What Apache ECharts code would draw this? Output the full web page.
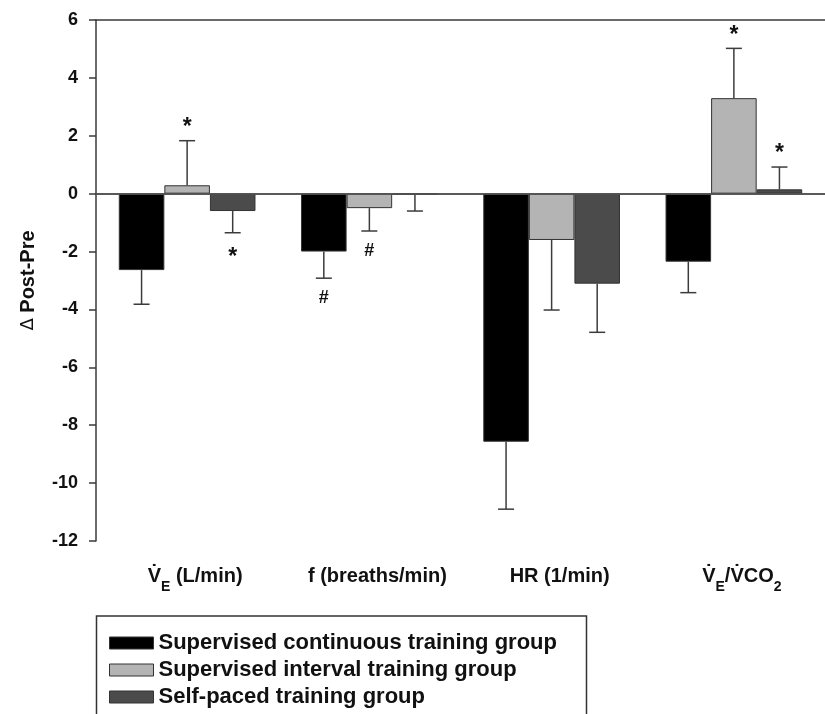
<!DOCTYPE html>
<html>
<head>
<meta charset="utf-8">
<script src="https://cdn.jsdelivr.net/npm/echarts@6/dist/echarts.min.js"></script>
<style>html,body{margin:0;padding:0;background:#fff}#c{width:825px;height:714px}</style>
</head>
<body>
<div id="c"></div>
<script>
// ---- data ----
const categories = ['VE (L/min)', 'f (breaths/min)', 'HR (1/min)', 'VE/VCO2'];
const groupNames = ['Supervised continuous training group', 'Supervised interval training group', 'Self-paced training group'];
const meanSCT = [-2.64, -2.00, -8.57, -2.35];
const errSCT  = [1.18, 0.92, 2.33, 1.07];
const meanSIT = [0.29, -0.50, -1.60, 3.30];
const errSIT  = [1.54, 0.79, 2.42, 1.72];
const meanSPT = [-0.60, -0.02, -3.11, 0.15];
const errSPT  = [0.75, 0.58, 1.68, 0.77];
const annSCT = ['', '#', '', ''];
const annSIT = ['*', '#', '', '*'];
const annSPT = ['*', '', '', '*'];
const yTicks = [-12, -10, -8, -6, -4, -2, 0, 2, 4, 6];

const colors = ['#000000', '#b4b4b4', '#4b4b4b'];
const means = [meanSCT, meanSIT, meanSPT];
const errs = [errSCT, errSIT, errSPT];
const anns = [annSCT, annSIT, annSPT];
const barFrac = 0.25;

const richLabels = [
  '{t|V\u0307}{s|E}{t| (L/min)}',
  '{t|f (breaths/min)}',
  '{t|HR (1/min)}',
  '{t|V\u0307}{s|E}{t|/V\u0307CO}{s|2}'
];

const errData = [];
for (let g = 0; g < 3; g++) {
  for (let i = 0; i < categories.length; i++) {
    errData.push([i, means[g][i], errs[g][i], g]);
  }
}

const chart = echarts.init(document.getElementById('c'), null, {renderer: 'canvas'});
const barSeries = groupNames.map((name, g) => ({
  name: name,
  type: 'bar',
  data: means[g],
  barWidth: (barFrac * 100) + '%',
  barGap: '0%',
  itemStyle: {color: colors[g], borderColor: '#333', borderWidth: 1},
  z: 2,
  silent: true
}));
barSeries[0].markLine = {
  silent: true,
  symbol: 'none',
  label: {show: false},
  lineStyle: {color: '#555', width: 1.5, type: 'solid'},
  data: [{yAxis: 0}],
  z: 5
};

const option = {
  animation: false,
  backgroundColor: '#fff',
  grid: {left: 96, right: -11, top: 20, bottom: 173, containLabel: false},
  graphic: [{
    type: 'rect',
    silent: true,
    shape: {x: 96.5, y: 616, width: 490, height: 130},
    style: {fill: 'none', stroke: '#333', lineWidth: 1.5}
  }],
  legend: {
    orient: 'vertical',
    left: 96,
    top: 616,
    data: groupNames,
    icon: 'rect',
    itemWidth: 44,
    itemHeight: 12,
    itemGap: 5,
    itemTextGap: 13,
    padding: [16, 0, 0, 13],
    itemStyle: {borderColor: '#333', borderWidth: 1},
    textStyle: {fontFamily: 'Liberation Sans', fontWeight: 'bold', fontSize: 22, color: '#111', lineHeight: 20},
    selectedMode: false
  },
  xAxis: [{
    type: 'category',
    data: categories,
    position: 'bottom',
    axisLine: {lineStyle: {color: '#3a3a3a', width: 1.5}},
    axisTick: {alignWithLabel: true, length: 7, lineStyle: {color: '#3a3a3a', width: 1.5}},
    axisLabel: {
      margin: 25,
      padding: [0, 0, 0, 16],
      formatter: (v, idx) => richLabels[idx],
      rich: {
        t: {fontFamily: 'Liberation Sans', fontWeight: 'bold', fontSize: 20, color: '#111', verticalAlign: 'bottom', padding: [0, 0, 8, 0]},
        s: {fontFamily: 'Liberation Sans', fontWeight: 'bold', fontSize: 14, color: '#111', verticalAlign: 'bottom'}
      }
    },
    splitLine: {show: false}
  }, {
    type: 'category',
    data: categories,
    position: 'top',
    axisLine: {lineStyle: {color: '#3a3a3a', width: 1.5}},
    axisTick: {show: false},
    axisLabel: {show: false},
    splitLine: {show: false}
  }],
  yAxis: {
    type: 'value',
    min: yTicks[0],
    max: yTicks[yTicks.length - 1],
    interval: 2,
    name: '{d|\u0394} Post-Pre',
    nameLocation: 'middle',
    nameGap: 58,
    nameTextStyle: {
      fontFamily: 'Liberation Sans', fontWeight: 'bold', fontSize: 20, color: '#111',
      rich: {d: {fontFamily: 'DejaVu Sans', fontWeight: 'normal', fontSize: 18, color: '#111'}}
    },
    axisLine: {show: true, lineStyle: {color: '#3a3a3a', width: 1.5}},
    axisTick: {show: true, length: 7, lineStyle: {color: '#3a3a3a', width: 1.5}},
    axisLabel: {fontFamily: 'Liberation Sans', fontWeight: 'bold', fontSize: 18, color: '#111', margin: 18},
    splitLine: {show: false}
  },
  series: barSeries.concat([{
    name: 'errors',
    type: 'custom',
    silent: true,
    z: 3,
    data: errData,
    renderItem: function (params, api) {
      const cat = api.value(0), mean = api.value(1), err = api.value(2), g = api.value(3);
      const band = api.size([1, 0])[0];
      const bw = band * barFrac;
      const x = api.coord([cat, 0])[0] + (g - 1) * bw;
      const end = mean >= 0 ? mean + err : mean - err;
      const y0 = api.coord([cat, mean])[1];
      const y1 = api.coord([cat, end])[1];
      const st = {stroke: '#3c3c3c', lineWidth: 1.5};
      const children = [
        {type: 'line', shape: {x1: x, y1: y0, x2: x, y2: y1}, style: st},
        {type: 'line', shape: {x1: x - 8, y1: y1, x2: x + 8, y2: y1}, style: st}
      ];
      const a = anns[g][cat];
      if (a) {
        const up = mean >= 0;
        let ty = up ? y1 - 18 : y1 + 20;
        let fs = 18;
        if (a === '*') { ty += 5; fs = 23; }
        children.push({
          type: 'text',
          style: {text: a, x: x, y: ty, align: 'center', verticalAlign: 'middle',
            fontFamily: 'Liberation Sans', fontWeight: 'bold', fontSize: fs, fill: '#111'}
        });
      }
      return {type: 'group', children: children};
    }
  }])
};
chart.setOption(option);
</script>
</body>
</html>
